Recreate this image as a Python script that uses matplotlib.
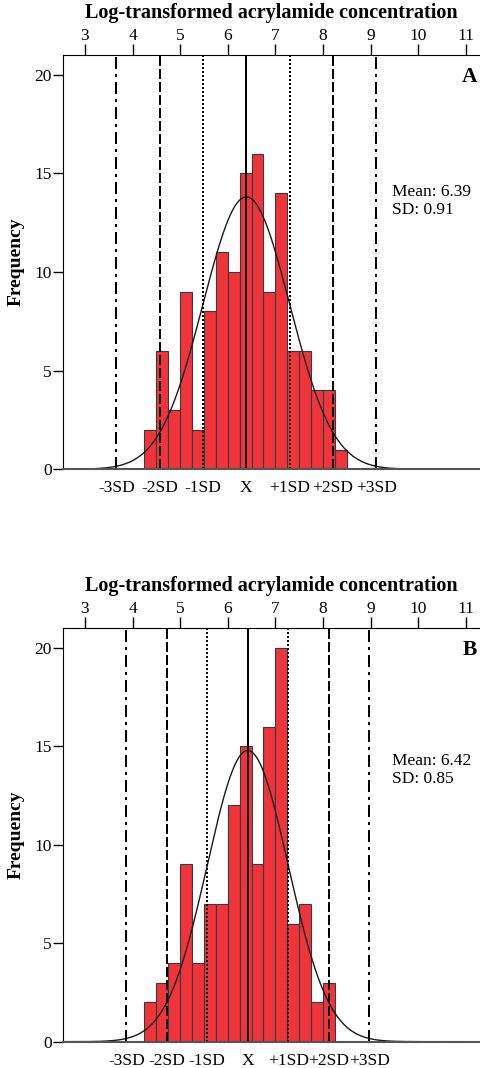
import numpy as np
import matplotlib
matplotlib.use("Agg")
import matplotlib.pyplot as plt

plt.rcParams['font.family'] = ['Liberation Serif', 'DejaVu Serif']

# ---- data ----
bin_width = 0.25
bin_start_A = 4.25
counts_A = [2, 6, 3, 9, 2, 8, 11, 10, 15, 16, 9, 14, 6, 6, 4, 4, 1]
mean_A, sd_A = 6.39, 0.91

bin_start_B = 4.25
counts_B = [2, 3, 4, 9, 4, 7, 7, 12, 15, 9, 16, 20, 6, 7, 2, 3]
mean_B, sd_B = 6.42, 0.85

top_ticks = [3, 4, 5, 6, 7, 8, 9, 10, 11]
sd_multiples = [-3, -2, -1, 0, 1, 2, 3]
sd_labels = ['-3SD', '-2SD', '-1SD', 'X', '+1SD', '+2SD', '+3SD']
y_ticks = [0, 5, 10, 15, 20]
panel_letters = ['A', 'B']
x_title = 'Log-transformed acrylamide concentration'

W, H = 480, 1068
fig = plt.figure(figsize=(W / 100, H / 100), dpi=100)


def frac_rect(left, top, right, bottom):
    return [left / W, 1 - bottom / H, (right - left) / W, (bottom - top) / H]


lw_px = 2.0
lw = lw_px * 0.72


def ls(pattern_px):
    return (0, tuple(p * 0.72 / lw for p in pattern_px))


line_styles = {0: '-', 1: ls([2, 2]), 2: ls([10, 3]), 3: ls([12, 5, 3, 5])}


def panel(rect, start, counts, mean, sd, letter, text_y):
    ax = fig.add_axes(rect)
    edges = start + bin_width * np.arange(len(counts) + 1)
    ax.bar(edges[:-1], counts, width=bin_width, align='edge',
           color='#EF343C', edgecolor='#3a3a3a', linewidth=0.8, zorder=2)
    n = sum(counts)
    xs = np.linspace(2.3, 11.5, 600)
    ys = n * bin_width / (sd * np.sqrt(2 * np.pi)) * np.exp(-0.5 * ((xs - mean) / sd) ** 2)
    ax.plot(xs, ys, color='#1a1a1a', lw=1.0, zorder=3)
    for k in sd_multiples:
        ax.axvline(mean + k * sd, color='black', lw=lw,
                   ls=line_styles[abs(k)], zorder=4)
    ax.set_xlim(2.538, 11.30)
    ax.set_ylim(0, 21)

    # top axis with values
    ax.xaxis.tick_top()
    ax.set_xticks(top_ticks)
    ax.set_xticklabels([str(t) for t in top_ticks], fontsize=12.5)
    ax.tick_params(axis='x', direction='out', length=8, width=1, pad=0)
    ax.xaxis.set_label_position('top')
    ax.set_xlabel(x_title, fontsize=14.5, fontweight='bold')
    ax.xaxis.set_label_coords(0.5, 1.101)
    ax.xaxis.label.set_verticalalignment('center')

    # y axis
    ax.set_yticks(y_ticks)
    ax.set_yticklabels([str(t) for t in y_ticks], fontsize=12.5)
    ax.tick_params(axis='y', direction='out', length=7, width=1, pad=1)
    ax.set_ylabel('Frequency', fontsize=14, fontweight='bold', labelpad=7)

    # bottom SD labels
    sec = ax.secondary_xaxis('bottom')
    sec.set_xticks([mean + k * sd for k in sd_multiples])
    sec.set_xticklabels(sd_labels, fontsize=12.5)
    sec.tick_params(length=0, pad=8)
    sec.spines['bottom'].set_visible(False)

    ax.spines['right'].set_visible(False)
    ax.spines['bottom'].set_color('#555555')
    ax.spines['bottom'].set_linewidth(1.5)
    ax.spines['bottom'].set_zorder(5)

    ax.text(0.993, 19.9, letter, transform=ax.get_yaxis_transform(),
            ha='right', va='center', fontsize=15.5, fontweight='bold')
    ax.text(0.789, text_y, f'Mean: {mean:.2f}\nSD: {sd:.2f}',
            transform=ax.get_yaxis_transform(), ha='left', va='center',
            fontsize=12.5, linespacing=1.15)
    return ax


panel(frac_rect(63, 55, 480, 469.3), bin_start_A, counts_A, mean_A, sd_A,
      panel_letters[0], 13.6)
panel(frac_rect(63, 628, 480, 1041.7), bin_start_B, counts_B, mean_B, sd_B,
      panel_letters[1], 13.8)

fig.savefig('out.png', dpi=100)
